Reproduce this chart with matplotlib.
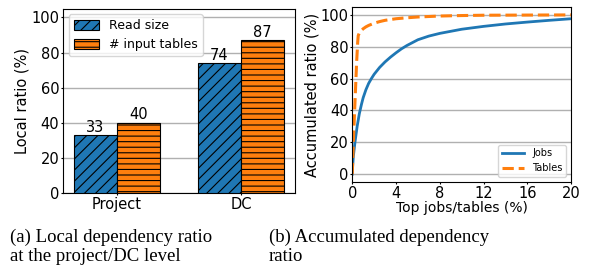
import matplotlib.pyplot as plt
import numpy as np

# (a) local dependency ratio
levels = ['Project', 'DC']
read_size = [33, 74]
input_tables = [40, 87]

# (b) accumulated dependency ratio
jobs_x = [0, 0.05, 0.1, 0.25, 0.45, 0.65, 0.85, 1.0, 1.25, 1.5, 1.75, 2.0, 2.5, 3.0,
          3.5, 4.0, 4.5, 5, 6, 7, 8, 10, 12, 14, 16, 18, 20]
jobs_y = [0, 6, 11, 20, 30, 38, 44, 48, 53, 57, 60, 62.7, 67, 70.5,
          73.5, 76.2, 78.7, 80.8, 84.4, 86.7, 88.4, 91, 92.8, 94.3, 95.5, 96.6, 97.6]
tables_x = [0, 0.1, 0.25, 0.4, 0.5, 0.55, 0.65, 0.8, 1.0, 1.25, 1.5, 2, 2.5, 3, 4, 5,
            6, 8, 10, 12, 16, 20]
tables_y = [0, 20, 45, 70, 83, 87, 88.7, 90, 91.3, 92.5, 93.4, 94.8, 95.8, 96.6, 97.6, 98.2,
            98.7, 99.3, 99.6, 99.8, 99.9, 100]

plt.rcParams['hatch.linewidth'] = 0.8
plt.rcParams['xtick.major.size'] = 1.5
plt.rcParams['ytick.major.size'] = 1.5
plt.rcParams['xtick.major.pad'] = 1.2
plt.rcParams['ytick.major.pad'] = 1.2
fig = plt.figure(figsize=(5.9, 2.78), dpi=100)

ax1 = fig.add_axes([0.107, 0.305, 0.393, 0.664])
x = np.arange(len(levels))
w = 0.35
b1 = ax1.bar(x - w / 2, read_size, w, color='#1f77b4', edgecolor='black',
             hatch='///', label='Read size', zorder=3, linewidth=0.8)
b2 = ax1.bar(x + w / 2, input_tables, w, color='#ff7f0e', edgecolor='black',
             hatch='---', label='# input tables', zorder=3, linewidth=0.8)
for bars in (b1, b2):
    for r in bars:
        ax1.text(r.get_x() + r.get_width() / 2, r.get_height() + 0.3,
                 '%d' % r.get_height(), ha='center', va='bottom', fontsize=10.5, zorder=5)
ax1.set_xticks(x)
ax1.set_xticklabels(levels, fontsize=10.5)
ax1.set_ylim(0, 105)
ax1.set_yticks([0, 20, 40, 60, 80, 100])
ax1.tick_params(labelsize=10.5)
ax1.set_ylabel('Local ratio (%)', fontsize=10.5, labelpad=1)
ax1.yaxis.grid(True, color='#b0b0b0', linewidth=1, zorder=0)
ax1.set_axisbelow(True)
leg = ax1.legend(loc='upper left', fontsize=9, borderaxespad=0.45, handleheight=0.8)
leg.set_zorder(2)

ax2 = fig.add_axes([0.597, 0.345, 0.371, 0.63])
ax2.plot(jobs_x, jobs_y, color='#1f77b4', linewidth=2, label='Jobs')
ax2.plot(tables_x, tables_y, color='#ff7f0e', linewidth=2.2, linestyle='--', label='Tables')
ax2.set_xlim(0, 20)
ax2.set_ylim(-5, 105)
ax2.set_xticks([0, 4, 8, 12, 16, 20])
ax2.set_yticks([0, 20, 40, 60, 80, 100])
ax2.tick_params(labelsize=10.5)
ax2.set_xlabel('Top jobs/tables (%)', fontsize=10, labelpad=0)
ax2.set_ylabel('Accumulated ratio (%)', fontsize=10.5, labelpad=1)
ax2.yaxis.grid(True, color='#b0b0b0', linewidth=1)
ax2.legend(loc='lower right', fontsize=7, handlelength=2.3)

cap = dict(fontsize=13.5, family='Liberation Serif', va='top', linespacing=1.2)
fig.text(0.017, 0.178, '(a) Local dependency ratio\nat the project/DC level', **cap)
fig.text(0.456, 0.178, '(b) Accumulated dependency\nratio', **cap)

fig.savefig('out.png', dpi=100)
